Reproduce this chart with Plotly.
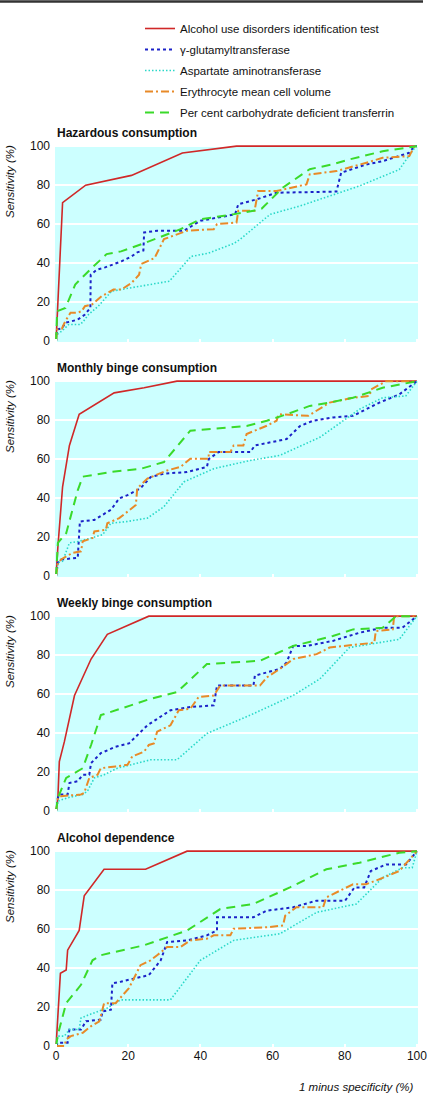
import plotly.graph_objects as go
from plotly.subplots import make_subplots

# ---------------- data (x = 1 minus specificity %, y = sensitivity %) ----------------
panel_titles = ["Hazardous consumption", "Monthly binge consumption",
                "Weekly binge consumption", "Alcohol dependence"]
series_names = ["Alcohol use disorders identification test", "γ-glutamyltransferase",
                "Aspartate aminotransferase", "Erythrocyte mean cell volume",
                "Per cent carbohydrate deficient transferrin"]
x_ticks = [0, 20, 40, 60, 80, 100]
y_ticks = [0, 20, 40, 60, 80, 100]

# Hazardous consumption
haz_audit_x = [0, 1.8, 8.2, 20.9, 35, 50, 100]
haz_audit_y = [0, 71, 80, 85, 96.5, 100, 100]
haz_ggt_x = [0, 0.3, 1.6, 2.6, 4, 6, 8, 9.5, 9.6, 11.3, 13.6, 18.1, 20.9, 22.5, 24.2, 24.4, 28, 35.4, 40, 44.6, 49.6, 50.5, 55.6, 61.1, 77.7, 79, 86, 90.5, 97.9, 99.3, 100]
haz_ggt_y = [0, 6, 6.5, 9.4, 10, 11, 13.6, 17, 34, 36.6, 37.8, 40.9, 43.4, 45.5, 46.5, 55.7, 56.6, 56.6, 61.7, 63.4, 65, 70.2, 72.7, 76.1, 76.7, 86.4, 90.6, 92.3, 96.6, 100, 100]
haz_ast_x = [0, 0.3, 1.6, 3.5, 6.7, 7.6, 9, 11.7, 15.4, 18.1, 23.6, 31.4, 37.4, 42, 49.2, 51.1, 59.3, 67.6, 84.1, 95.1, 99.7, 100]
haz_ast_y = [0, 3.4, 5.1, 8.5, 8.5, 10.2, 13.6, 17.9, 25.6, 26.4, 28.1, 30.7, 43.4, 45, 50, 52.3, 65, 69.3, 79.6, 88, 100, 100]
haz_mcv_x = [0, 0.3, 1.6, 2.5, 4, 5.8, 7.1, 8, 9.9, 12.6, 15.9, 18.1, 20.9, 23, 23.6, 27.3, 29.9, 32.6, 36.3, 43.7, 44.6, 50, 50.5, 55, 56, 61.1, 69.4, 70.3, 77.7, 86, 90.5, 97.9, 99.3, 100]
haz_mcv_y = [0, 6, 6.3, 10, 14.5, 14.5, 15.3, 17.9, 18.7, 23, 26.4, 26.4, 29.8, 34, 39.5, 42.6, 52.3, 54, 56.6, 57.4, 60, 60.8, 66.8, 66.8, 77, 77, 80.4, 85.5, 87.2, 91.5, 94, 94.9, 100, 100]
haz_cdt_x = [0, 0.3, 2.6, 5.3, 9.9, 12.2, 14, 18, 24.1, 34.5, 40, 49, 54.7, 57, 62.9, 70.3, 76.7, 81.3, 90.5, 100]
haz_cdt_y = [0, 15.3, 17, 29, 37.5, 41.7, 44.6, 46, 50, 57.4, 62.5, 65, 66.8, 68, 78.8, 88.2, 90.7, 93.2, 97.4, 100]

# Monthly binge consumption
mon_audit_x = [0, 0.5, 1.8, 3.7, 6.4, 16.1, 24.4, 33.5, 100]
mon_audit_y = [0, 15, 45.8, 67, 83, 94, 96.6, 100, 100]
mon_ggt_x = [0, 0.5, 1.4, 6, 6.6, 10.6, 15.2, 17.5, 19.8, 23.4, 26.2, 29.9, 36.3, 41.8, 42.3, 45, 53.8, 55.1, 63.9, 67.6, 71.2, 76.7, 82.3, 85.9, 89.6, 95.1, 100]
mon_ggt_y = [0, 6.8, 8.5, 9.3, 28, 28.8, 34, 39.8, 41.5, 45, 50.8, 52.5, 53.4, 56, 60, 63.6, 63.6, 67, 70.3, 77, 79.7, 81.4, 82.2, 85.6, 89, 93.2, 100]
mon_ast_x = [0, 0.5, 1.8, 3.7, 6.4, 9.7, 12.9, 15.2, 19.8, 25.3, 29.9, 35.4, 43.7, 53.8, 62, 73.1, 84.1, 90.5, 96.9, 100]
mon_ast_y = [0, 6.8, 7.6, 17, 17.8, 19.5, 21.2, 27.1, 28, 29.7, 35.6, 48.3, 55.1, 59.3, 61.9, 71.2, 85.6, 91.5, 92.4, 100]
mon_mcv_x = [0, 0.5, 1.4, 4.6, 6.9, 7.4, 10.1, 10.6, 13.8, 14.2, 17.5, 22.1, 22.5, 25.3, 30.8, 34.5, 37.2, 42.3, 42.3, 48.3, 49.2, 51.9, 52.8, 58.4, 61.1, 61.7, 69.9, 75.8, 82.3, 86.9, 87.3, 91.5, 100]
mon_mcv_y = [0, 6.8, 8.5, 11.9, 12.7, 17.8, 19.5, 22.9, 23.7, 27.1, 29.7, 36.4, 45, 50, 54.2, 56, 60.2, 60.2, 63.6, 63.6, 67, 67, 72.9, 77.1, 79.7, 83, 82.2, 89, 91.5, 92.4, 95.8, 100, 100]
mon_cdt_x = [0, 0.5, 2.8, 6, 7.4, 15.2, 23.4, 29.9, 37.2, 41.8, 52.8, 58.4, 63.9, 70.3, 75.8, 82.3, 90.5, 100]
mon_cdt_y = [0, 17, 22, 44, 51, 53.4, 55, 58.5, 74.6, 75.4, 77, 79.7, 83, 87.3, 89, 91.5, 96.6, 100]

# Weekly binge consumption
wk_audit_x = [0, 0.5, 0.9, 2.3, 5.1, 9.7, 14.2, 25.7, 100]
wk_audit_y = [0, 6.8, 25.4, 35.6, 59.3, 78, 90.7, 100, 100]
wk_ggt_x = [0, 0.5, 0.9, 3.2, 3.7, 6, 7.4, 9.2, 9.7, 12.4, 16.5, 20.2, 25.3, 31.7, 37.2, 43.7, 44.6, 54.7, 55.1, 62, 63.9, 65.7, 69.4, 76.7, 84.1, 90.5, 96, 100]
wk_ggt_y = [0, 6.8, 8.5, 8.5, 14.4, 15.3, 18.6, 18.6, 24.6, 29.7, 33, 34.7, 44, 51.7, 53.4, 54.2, 64.4, 64.4, 69.5, 72.9, 76.3, 84.7, 84.7, 87.3, 91.5, 94.1, 94.1, 100]
wk_ast_x = [0, 0.5, 3.2, 7.4, 8.7, 10.6, 13.3, 17, 26.2, 33.5, 41.8, 53.8, 65.7, 73.1, 81.3, 95.1, 100]
wk_ast_y = [0, 5.1, 6.8, 8.5, 10.2, 17, 18.6, 22, 26.3, 26.3, 39.8, 49.2, 59.3, 67.8, 83.9, 88.1, 100]
wk_mcv_x = [0, 0.5, 1.4, 6.9, 7.8, 9.2, 11.5, 12.4, 16.5, 19.8, 21.1, 24.4, 25.7, 27.1, 28, 31.7, 34, 37.2, 39.5, 43.7, 45.5, 56.5, 58.4, 62, 65.7, 72.2, 75.8, 88.2, 88.6, 93.3, 93.7, 100]
wk_mcv_y = [0, 6.8, 7.6, 8.5, 9.3, 17, 18.6, 22, 22.9, 23.7, 28, 30.5, 33.9, 34.7, 40.7, 44, 51.7, 52.5, 58.5, 59.3, 64.4, 64.4, 68.6, 72.9, 78, 80.5, 83.9, 86.4, 92.4, 93.2, 100, 100]
wk_cdt_x = [0, 0.5, 2.8, 7.4, 9.7, 12.4, 20.7, 26.2, 33.5, 41.8, 56.5, 65.7, 76.7, 82.3, 90.5, 94.2, 100]
wk_cdt_y = [0, 6.8, 17, 22, 33.9, 49.2, 54.2, 57.6, 61, 75.4, 77.1, 84.7, 89.8, 93.2, 94, 100, 100]

# Alcohol dependence
dep_audit_x = [0, 0.5, 1.2, 2.8, 3.2, 6.4, 7.8, 13.3, 24.8, 36.3, 100]
dep_audit_y = [0, 15.3, 37.3, 39, 49.2, 59.3, 77.1, 90.7, 90.7, 100, 100]
dep_ggt_x = [0, 0.5, 3.2, 3.7, 6.9, 8.3, 12.4, 12.9, 15.2, 15.6, 17.9, 21.6, 25.7, 29, 30.8, 36.3, 41.8, 44.6, 44.6, 54.7, 58.4, 65.7, 72.2, 80.1, 82.7, 85.4, 87.2, 91.5, 97, 100]
dep_ggt_y = [0, 1.7, 1.7, 8.5, 8.5, 12.7, 13.6, 17.8, 18.6, 32.2, 33, 34.7, 36.4, 44, 53.4, 54.2, 56.8, 59.3, 66.1, 66.1, 69.5, 71.2, 74.6, 74.6, 81.4, 81.4, 89.8, 93.2, 93.2, 100]
dep_ast_x = [0, 0.5, 2.3, 3.7, 6.4, 6.9, 9.2, 14.2, 17.9, 31.7, 40, 49.2, 62, 72.2, 83.2, 90.5, 96, 98.7, 100]
dep_ast_y = [0, 5.1, 5.1, 8.5, 8.5, 14.4, 16.1, 19.5, 23.7, 23.7, 44, 54.2, 57.6, 68.6, 72.9, 86.4, 91.5, 91.5, 100]
dep_mcv_x = [0, 2.3, 2.8, 4.1, 7.4, 9.7, 12, 12.4, 13.3, 16.5, 20.2, 23.4, 26.2, 28, 30.8, 34.5, 37.2, 41.8, 43.7, 48.3, 49.2, 59, 62.9, 63.5, 66.6, 74, 74.9, 82.3, 85.9, 89.6, 95.1, 100]
dep_mcv_y = [0, 0, 3.4, 5.1, 6.8, 10.2, 12.7, 15.3, 22, 22, 29.7, 41.5, 44, 46.6, 50.8, 50.8, 54.2, 55.1, 56.8, 56.8, 60.2, 61, 61.9, 66.9, 71.2, 71.2, 76.3, 83, 83, 85.6, 89.8, 100]
dep_cdt_x = [0, 0.5, 2.8, 6.9, 10.1, 12.4, 24.4, 30.8, 36.3, 45.5, 54.7, 64.8, 74.9, 84.1, 95.1, 100]
dep_cdt_y = [0, 5.9, 22, 31.4, 44, 46.6, 51.7, 55.9, 59.3, 70.3, 72.9, 81.4, 90.7, 94.1, 99.2, 100]

panels = [
    [(haz_audit_x, haz_audit_y), (haz_ggt_x, haz_ggt_y), (haz_ast_x, haz_ast_y), (haz_mcv_x, haz_mcv_y), (haz_cdt_x, haz_cdt_y)],
    [(mon_audit_x, mon_audit_y), (mon_ggt_x, mon_ggt_y), (mon_ast_x, mon_ast_y), (mon_mcv_x, mon_mcv_y), (mon_cdt_x, mon_cdt_y)],
    [(wk_audit_x, wk_audit_y), (wk_ggt_x, wk_ggt_y), (wk_ast_x, wk_ast_y), (wk_mcv_x, wk_mcv_y), (wk_cdt_x, wk_cdt_y)],
    [(dep_audit_x, dep_audit_y), (dep_ggt_x, dep_ggt_y), (dep_ast_x, dep_ast_y), (dep_mcv_x, dep_mcv_y), (dep_cdt_x, dep_cdt_y)],
]

# ---------------- styles ----------------
line_styles = [
    dict(color="#d02828", width=1.6, dash="solid"),
    dict(color="#1c22c8", width=2.0, dash="3px,3px"),
    dict(color="#2ad8c8", width=1.6, dash="1.5px,2px"),
    dict(color="#e88a28", width=2.0, dash="8px,3px,2px,3px"),
    dict(color="#3ada2a", width=2.0, dash="9px,6px"),
]

W, H = 430, 1096
FONT = "Liberation Sans, Arial, Helvetica, sans-serif"
left_px, right_px = 55, 418
tops = [145, 380, 615, 850]
ph = 197

def py(p):
    return 1 - p / H

fig = make_subplots(rows=4, cols=1)
for i, series in enumerate(panels):
    for j, (xs, ys) in enumerate(series):
        fig.add_trace(go.Scatter(
            x=xs, y=ys, mode="lines", line=line_styles[j], name=series_names[j],
            legendgroup=f"g{j}", showlegend=(i == 0), hoverinfo="skip"),
            row=i + 1, col=1)

for i in range(4):
    fig.update_xaxes(
        domain=[left_px / W, right_px / W], range=[-0.3, 100.3],
        tickmode="array", tickvals=x_ticks, ticktext=[str(v) for v in x_ticks],
        showticklabels=(i == 3), ticks="inside", ticklen=3, tickwidth=1.5,
        tickcolor="white", showgrid=False, zeroline=False, showline=False,
        automargin=False, side="bottom",
        tickfont=dict(size=12, family=FONT, color="#111"),
        row=i + 1, col=1)
    fig.update_yaxes(
        domain=[py(tops[i] + ph), py(tops[i])], range=[-0.5, 100.6],
        tickmode="array", tickvals=y_ticks, ticktext=[str(v) for v in y_ticks],
        showgrid=True, gridcolor="white", gridwidth=1.5, zeroline=False,
        showline=False, ticks="", ticklabelstandoff=4, automargin=False,
        tickfont=dict(size=12, family=FONT, color="#111"),
        row=i + 1, col=1)
    fig.add_annotation(
        text=f"<b>{panel_titles[i]}</b>", xref="paper", yref="paper",
        x=left_px / W, y=py(tops[i] - 3), xanchor="left", yanchor="bottom",
        showarrow=False, font=dict(size=12, family=FONT, color="#111"))
    fig.add_annotation(
        text="<i>Sensitivity (%)</i>", xref="paper", yref="paper",
        x=10 / W, y=py(tops[i] + 37), xanchor="center", yanchor="middle",
        textangle=-90, showarrow=False,
        font=dict(size=11.5, family=FONT, color="#111"))

fig.add_annotation(
    text="<i>1 minus specificity (%)</i>", xref="paper", yref="paper",
    x=416 / W, y=py(1087), xanchor="right", yanchor="middle",
    showarrow=False, font=dict(size=11.5, family=FONT, color="#111"))

fig.add_shape(type="line", xref="paper", yref="paper",
              x0=0, x1=423 / W, y0=py(1.5), y1=py(1.5),
              line=dict(color="#333", width=2.5))

fig.update_layout(
    width=W, height=H, margin=dict(l=0, r=0, t=0, b=0),
    paper_bgcolor="white", plot_bgcolor="#ccffff",
    font=dict(family=FONT, size=12, color="#111"),
    showlegend=True,
    legend=dict(x=140 / W, y=py(14), xanchor="left", yanchor="top",
                bgcolor="rgba(0,0,0,0)", borderwidth=0,
                font=dict(size=11.5, family=FONT, color="#111"),
                tracegroupgap=2, itemwidth=30),
)
fig.write_html("out.html",
               config={"displayModeBar": False},
               post_script="document.body.style.margin='0';document.body.style.padding='0';")
